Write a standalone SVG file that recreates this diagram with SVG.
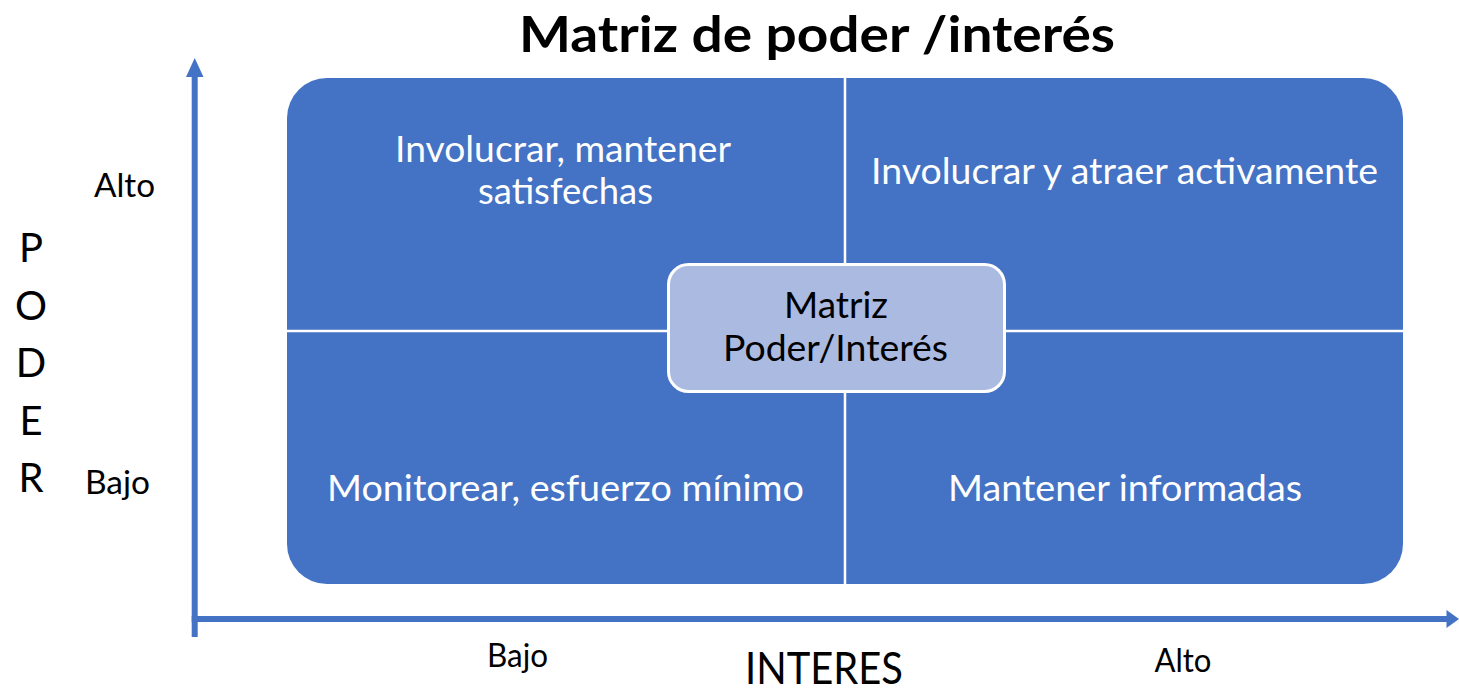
<svg xmlns="http://www.w3.org/2000/svg" width="1459" height="692" viewBox="0 0 1459 692">
<defs>
<style>
.t{font-family:Lato,"Open Sans","Liberation Sans",sans-serif;}
.title{font-size:50px;font-weight:bold;fill:#000;}
.q{font-size:37px;fill:#fff;}
.c{font-size:36px;fill:#000;}
.lab{font-size:32px;fill:#000;}
.ax{font-size:40px;fill:#000;}
.axis{stroke:#4472C4;stroke-width:6;fill:none;}
.div{stroke:#fff;stroke-width:2.5;}
</style>
</defs>
<rect width="1459" height="692" fill="#fff"/>
<text class="t title" x="817" y="52" text-anchor="middle" textLength="596" lengthAdjust="spacingAndGlyphs">Matriz de poder /interés</text>

<g id="connectors">
<line class="axis" x1="194.7" y1="637" x2="194.7" y2="74"/>
<polygon points="194.7,58 186,77 203.5,77" fill="#4472C4"/>
<line class="axis" x1="191.7" y1="619" x2="1448" y2="619"/>
<polygon points="1459,619 1446.5,610 1446.5,628" fill="#4472C4"/>
</g>

<g id="matrix">
<rect x="287" y="78" width="1116" height="506" rx="40" ry="40" fill="#4472C4"/>
<line class="div" x1="845" y1="78" x2="845" y2="584"/>
<line class="div" x1="287" y1="331" x2="1403" y2="331"/>
</g>

<g id="q-top-left">
<text class="t q" x="563" y="162" text-anchor="middle" textLength="336" lengthAdjust="spacingAndGlyphs">Involucrar, mantener</text>
<text class="t q" x="565.5" y="204" text-anchor="middle" textLength="175" lengthAdjust="spacingAndGlyphs">satisfechas</text>
</g>
<g id="q-top-right">
<text class="t q" x="1124.5" y="184" text-anchor="middle" textLength="507" lengthAdjust="spacingAndGlyphs">Involucrar y atraer activamente</text>
</g>
<g id="q-bottom-left">
<text class="t q" x="565.5" y="501" text-anchor="middle" textLength="477" lengthAdjust="spacingAndGlyphs">Monitorear, esfuerzo mínimo</text>
</g>
<g id="q-bottom-right">
<text class="t q" x="1125" y="501" text-anchor="middle" textLength="354" lengthAdjust="spacingAndGlyphs">Mantener informadas</text>
</g>

<g id="center">
<rect x="668.5" y="264.5" width="336" height="127" rx="20" ry="20" fill="#ABBAE0" stroke="#fff" stroke-width="3"/>
<text class="t c" x="836" y="318" text-anchor="middle" textLength="104" lengthAdjust="spacingAndGlyphs">Matriz</text>
<text class="t c" x="835.5" y="361" text-anchor="middle" textLength="225" lengthAdjust="spacingAndGlyphs">Poder/Interés</text>
</g>

<g id="y-labels">
<text class="t lab" x="124.5" y="197" text-anchor="middle" textLength="61" lengthAdjust="spacingAndGlyphs">Alto</text>
<text class="t lab" x="117.5" y="494" text-anchor="middle" textLength="65" lengthAdjust="spacingAndGlyphs">Bajo</text>
<text class="t ax" x="31" y="262" text-anchor="middle">P</text>
<text class="t ax" x="31" y="320" text-anchor="middle">O</text>
<text class="t ax" x="31" y="377" text-anchor="middle">D</text>
<text class="t ax" x="31" y="435" text-anchor="middle">E</text>
<text class="t ax" x="31" y="492" text-anchor="middle">R</text>
</g>

<g id="x-labels">
<text class="t lab" x="517.5" y="667" text-anchor="middle" textLength="61" lengthAdjust="spacingAndGlyphs">Bajo</text>
<text class="t" x="824" y="684" text-anchor="middle" font-size="45" fill="#000" textLength="158" lengthAdjust="spacingAndGlyphs">INTERES</text>
<text class="t lab" x="1183" y="672" text-anchor="middle" textLength="57" lengthAdjust="spacingAndGlyphs">Alto</text>
</g>
</svg>
